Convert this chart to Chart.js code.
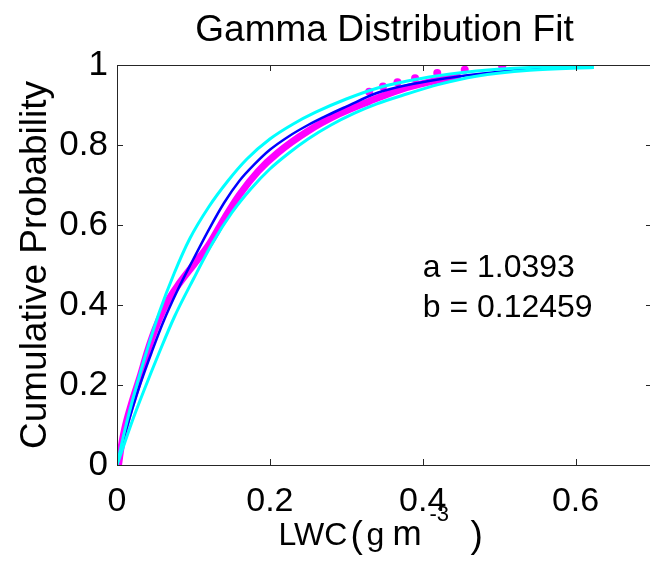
<!DOCTYPE html>
<html>
<head>
<meta charset="utf-8">
<script src="https://cdn.jsdelivr.net/npm/chart.js@4.4.1/dist/chart.umd.min.js"></script>
<style>
  html, body { margin: 0; padding: 0; background: #fff; overflow: hidden; width: 650px; height: 571px; }
  #wrap { width: 656px; height: 571px; position: relative; }
</style>
</head>
<body>
<div id="wrap"><canvas id="myChart"></canvas></div>
<script>
// values
const xTicks = [0, 0.2, 0.4, 0.6]
const yTicks = [0, 0.2, 0.4, 0.6, 0.8, 1]

// empirical CDF (magenta markers)
const dataX = [0.002, 0.005, 0.01, 0.02, 0.03, 0.04, 0.05, 0.065, 0.08, 0.1, 0.12, 0.14, 0.16, 0.185, 0.21, 0.25, 0.29, 0.33, 0.37, 0.42, 0.45]
const dataY = [0, 0.04, 0.09, 0.16, 0.22, 0.285, 0.34, 0.405, 0.45, 0.5, 0.55, 0.615, 0.675, 0.735, 0.78, 0.835, 0.877, 0.909, 0.938, 0.962, 0.972]
// sparse markers in the tail
const tailX = [0.33, 0.348, 0.367, 0.39, 0.419, 0.455, 0.504]
const tailY = [0.933, 0.946, 0.957, 0.967, 0.98, 0.988, 0.997]

// fitted gamma cdf (blue)
const fitX = [0, 0.01, 0.02, 0.03, 0.045, 0.06, 0.08, 0.1, 0.12, 0.14, 0.16, 0.18, 0.2, 0.225, 0.25, 0.275, 0.3, 0.34, 0.38, 0.42, 0.47, 0.52, 0.56, 0.59]
const fitY = [0, 0.075, 0.14, 0.2, 0.28, 0.355, 0.44, 0.515, 0.588, 0.655, 0.71, 0.752, 0.788, 0.822, 0.85, 0.874, 0.896, 0.93, 0.95, 0.964, 0.977, 0.987, 0.993, 0.996]

// confidence bounds (cyan)
const upperX = [0, 0.01, 0.02, 0.035, 0.055, 0.075, 0.095, 0.12, 0.145, 0.17, 0.2, 0.23, 0.26, 0.3, 0.34, 0.38, 0.42, 0.47, 0.54, 0.624]
const upperY = [0, 0.085, 0.16, 0.26, 0.38, 0.48, 0.565, 0.645, 0.71, 0.765, 0.815, 0.852, 0.882, 0.915, 0.942, 0.96, 0.973, 0.985, 0.994, 0.998]
const lowerX = [0, 0.01, 0.02, 0.035, 0.055, 0.075, 0.1, 0.125, 0.15, 0.175, 0.2, 0.225, 0.25, 0.28, 0.31, 0.34, 0.38, 0.42, 0.47, 0.54, 0.624]
const lowerY = [0, 0.055, 0.11, 0.185, 0.28, 0.37, 0.465, 0.555, 0.63, 0.69, 0.74, 0.78, 0.815, 0.85, 0.879, 0.903, 0.928, 0.951, 0.972, 0.987, 0.994]

const annotLines = ['a = 1.0393', 'b = 0.12459']
const annotPos = [[0.40, 0.47], [0.40, 0.371]]

const FONT = '"Liberation Sans", Arial, sans-serif'

// turn two arrays into {x, y} points
const pts = (xs, ys) => xs.map((x, i) => ({ x: x, y: ys[i] }))

// box, inward ticks and all the free text
const decor = {
    id: 'decor',
    afterDatasetsDraw(chart) {
        const { ctx, chartArea: a, scales } = chart
        const cx = (a.left + a.right) / 2
        ctx.save()
        ctx.strokeStyle = '#262626'
        ctx.lineWidth = 1
        ctx.strokeRect(a.left + 0.5, a.top + 0.5, a.right - a.left, a.bottom - a.top)
        ctx.beginPath()
        for (const v of xTicks) {
            const px = Math.round(scales.x.getPixelForValue(v)) + 0.5
            ctx.moveTo(px, a.bottom); ctx.lineTo(px, a.bottom - 6)
            ctx.moveTo(px, a.top); ctx.lineTo(px, a.top + 6)
        }
        for (const v of yTicks) {
            const py = Math.round(scales.y.getPixelForValue(v)) + 0.5
            ctx.moveTo(a.left, py); ctx.lineTo(a.left + 6, py)
            ctx.moveTo(a.right, py); ctx.lineTo(a.right - 6, py)
        }
        ctx.stroke()

        ctx.fillStyle = '#000'
        // title
        ctx.font = '37px ' + FONT
        ctx.textAlign = 'center'
        ctx.textBaseline = 'alphabetic'
        ctx.fillText('Gamma Distribution Fit', cx, 41)

        // y label
        ctx.save()
        ctx.translate(46, (a.top + a.bottom) / 2)
        ctx.rotate(-Math.PI / 2)
        ctx.font = '37px ' + FONT
        ctx.fillText('Cumulative Probability', 0, 0)
        ctx.restore()

        // x label with superscript
        ctx.textAlign = 'left'
        ctx.font = '32px ' + FONT
        ctx.fillText('LWC', cx - 106, 545)
        ctx.fillText('g', cx - 18, 545)
        ctx.font = '35px ' + FONT
        ctx.fillText('m', cx + 8, 545)
        ctx.font = '37px ' + FONT
        ctx.fillText('(', cx - 34, 547)
        ctx.fillText(')', cx + 86, 547)
        ctx.font = '22px ' + FONT
        ctx.fillText('-3', cx + 45, 521)

        // fit parameters
        ctx.font = '32px ' + FONT
        annotLines.forEach((t, i) => {
            ctx.fillText(t, scales.x.getPixelForValue(annotPos[i][0]), scales.y.getPixelForValue(annotPos[i][1]))
        })
        ctx.restore()
    }
}

const lineSet = (label, data, color, width) => ({
    label: label,
    data: data,
    showLine: true,
    borderColor: color,
    backgroundColor: color,
    borderWidth: width,
    pointRadius: 0,
    cubicInterpolationMode: 'monotone',
    fill: false
})

let ctx = document.querySelector('#myChart').getContext('2d')
let gammaChart = new Chart(ctx, {
    type: 'scatter',
    data: {
        datasets: [
            lineSet('upper bound', pts(upperX, upperY), '#00ffff', 3),
            lineSet('lower bound', pts(lowerX, lowerY), '#00ffff', 3),
            lineSet('gamma fit', pts(fitX, fitY), '#0000ff', 2.5),
            {
                label: 'data tail',
                data: pts(tailX, tailY),
                showLine: false,
                pointStyle: 'circle',
                pointRadius: 4,
                borderWidth: 0,
                backgroundColor: '#ff00ff'
            },
            lineSet('data', pts(dataX, dataY), '#ff00ff', 7)
        ]
    },
    options: {
        responsive: true,
        maintainAspectRatio: false,
        animation: false,
        layout: { padding: { top: 65, right: 2, bottom: 0, left: 0 } },
        plugins: { legend: { display: false }, title: { display: false }, tooltip: { enabled: false } },
        scales: {
            x: {
                type: 'linear',
                min: 0,
                max: 0.7,
                grid: { display: false, drawTicks: false },
                border: { display: false },
                afterBuildTicks: s => { s.ticks = xTicks.map(v => ({ value: v })) },
                afterFit: s => { s.height = 106 },
                ticks: {
                    padding: 16,
                    color: '#000',
                    font: { size: 34, family: FONT },
                    maxRotation: 0,
                    callback: v => String(+v.toFixed(1))
                }
            },
            y: {
                min: 0,
                max: 1,
                grid: { display: false, drawTicks: false },
                border: { display: false },
                afterBuildTicks: s => { s.ticks = yTicks.map(v => ({ value: v })) },
                afterFit: s => { s.width = 117 },
                ticks: {
                    padding: 9,
                    color: '#000',
                    font: { size: 35, family: FONT },
                    callback: v => String(+v.toFixed(1))
                }
            }
        }
    },
    plugins: [decor]
})
</script>
</body>
</html>
